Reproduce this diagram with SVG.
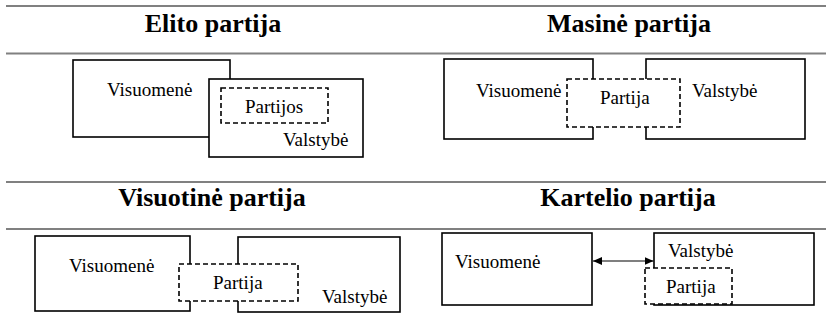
<svg xmlns="http://www.w3.org/2000/svg" width="827" height="332" viewBox="0 0 827 332">
<style>
.rule{stroke:#808080;stroke-width:2;fill:none}
text{font-family:'Liberation Serif',Tinos,'Times New Roman','DejaVu Serif',serif}
.title{font-size:26px;font-weight:bold;fill:#000;text-anchor:middle}
.lbl{font-size:19px;fill:#000}
.box{fill:#fff;stroke:#000;stroke-width:1.6}
.dash{fill:#fff;stroke:#000;stroke-width:1.6;stroke-dasharray:5,3}
.conn{stroke:#000;stroke-width:1.2;fill:none}
</style>
<defs>
<marker id="ah" viewBox="0 0 9 8" refX="9" refY="4" markerWidth="9" markerHeight="8" markerUnits="userSpaceOnUse" orient="auto-start-reverse">
<path d="M0,0 L9,4 L0,8 z" fill="#000"/>
</marker>
</defs>
<rect width="827" height="332" fill="#fff"/>
<g id="rules">
<line class="rule" x1="6" y1="6" x2="826" y2="6"/>
<line class="rule" x1="6" y1="53.5" x2="826" y2="53.5"/>
<line class="rule" x1="6" y1="182" x2="826" y2="182"/>
<line class="rule" x1="6" y1="229" x2="826" y2="229"/>
</g>
<g id="titles">
<text class="title" x="213" y="31.5">Elito partija</text>
<text class="title" x="629" y="31.5">Masinė partija</text>
<text class="title" x="212" y="206">Visuotinė partija</text>
<text class="title" x="628" y="206">Kartelio partija</text>
</g>
<!-- Panel 1: Elito partija -->
<g id="p1-visuomene">
<rect class="box" x="73" y="60" width="157" height="77"/>
<text class="lbl" x="107" y="96">Visuomenė</text>
</g>
<g id="p1-valstybe">
<rect class="box" x="209" y="79" width="154" height="78"/>
<text class="lbl" x="283" y="146">Valstybė</text>
</g>
<g id="p1-partijos">
<rect class="dash" x="221" y="88" width="107" height="35"/>
<text class="lbl" x="245" y="113">Partijos</text>
</g>
<!-- Panel 2: Masine partija -->
<g id="p2-visuomene">
<rect class="box" x="444" y="59" width="149" height="80"/>
<text class="lbl" x="476" y="97">Visuomenė</text>
</g>
<g id="p2-valstybe">
<rect class="box" x="646" y="59" width="159" height="80"/>
<text class="lbl" x="692" y="97">Valstybė</text>
</g>
<g id="p2-partija">
<rect class="dash" x="567" y="79" width="113" height="48"/>
<text class="lbl" x="600" y="104">Partija</text>
</g>
<!-- Panel 3: Visuotine partija -->
<g id="p3-visuomene">
<rect class="box" x="35" y="236" width="155" height="75"/>
<text class="lbl" x="69" y="272">Visuomenė</text>
</g>
<g id="p3-valstybe">
<rect class="box" x="238" y="237" width="162" height="75"/>
<text class="lbl" x="322" y="302.5">Valstybė</text>
</g>
<g id="p3-partija">
<rect class="dash" x="179" y="264" width="119" height="37"/>
<text class="lbl" x="213" y="289">Partija</text>
</g>
<!-- Panel 4: Kartelio partija -->
<g id="p4-visuomene">
<rect class="box" x="442" y="233" width="150" height="72"/>
<text class="lbl" x="455" y="268">Visuomenė</text>
</g>
<g id="p4-valstybe">
<rect class="box" x="654" y="233" width="160" height="72"/>
<text class="lbl" x="668" y="257">Valstybė</text>
</g>
<g id="p4-partija">
<rect class="dash" x="645" y="268" width="87" height="36"/>
<text class="lbl" x="666" y="292.5">Partija</text>
</g>
<g id="connectors">
<line class="conn" x1="593" y1="261" x2="653.5" y2="261" marker-start="url(#ah)" marker-end="url(#ah)"/>
</g>
</svg>
